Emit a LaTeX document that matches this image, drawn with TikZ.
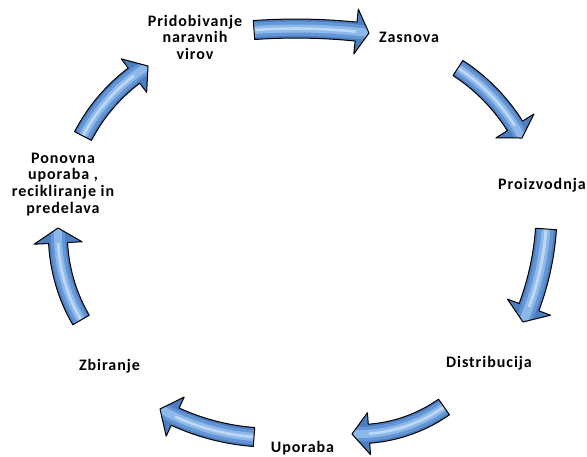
\documentclass[tikz,border=0pt]{standalone}
\usepackage{fontspec}
\newfontfamily\lblfont{Carlito}[LetterSpace=6]
\definecolor{arrbase}{RGB}{76,126,194}
\definecolor{arrmid}{RGB}{100,150,214}
\definecolor{arrlight}{RGB}{140,184,234}
\definecolor{arrwhite}{RGB}{222,236,252}
\tikzset{
  lbl/.style={font=\lblfont\bfseries\fontsize{16}{16.4}\selectfont, align=center, inner sep=0pt, text=black},
  arroutline/.style={draw=black, line width=1pt, line join=round}
}
% tail x, tail y, tip x, tip y, radius, shaft width, head width, head length
\newcommand\cycarrow[8]{%
  \pgfmathsetmacro\Adx{#3-#1}%
  \pgfmathsetmacro\Ady{#4-#2}%
  \pgfmathsetmacro\AL{veclen(\Adx,\Ady)}%
  \pgfmathsetmacro\Aq{\AL/(2*#5)}%
  \pgfmathsetmacro\Ah{#5*sqrt(1-\Aq*\Aq)}%
  \pgfmathsetmacro\Acx{(#1+#3)/2-\Ady/\AL*\Ah}%
  \pgfmathsetmacro\Acy{(#2+#4)/2+\Adx/\AL*\Ah}%
  \pgfmathsetmacro\Aa{atan2(#2-\Acy,#1-\Acx)}%
  \pgfmathsetmacro\Ab{atan2(#4-\Acy,#3-\Acx)}%
  \pgfmathsetmacro\Ab{\Ab<\Aa ? \Ab+360 : \Ab}%
  \pgfmathsetmacro\Ahd{\Ab-deg(#8/#5)}%
  \pgfmathsetmacro\Ro{#5+#6/2}%
  \pgfmathsetmacro\Ri{#5-#6/2}%
  \pgfmathsetmacro\Rho{#5+#7/2}%
  \pgfmathsetmacro\Rhi{#5-#7/2}%
  \pgfmathsetmacro\Aend{\Ab+2}%
  \pgfmathsetmacro\Ast{\Aa-2}%
  \pgfmathsetmacro\Lwa{0.75*#6}%
  \pgfmathsetmacro\Lwb{0.42*#6}%
  \pgfmathsetmacro\Lwc{0.14*#6}%
  \path[save path=\Apth]
    plot[domain=\Aa:\Ahd,samples=40,variable=\t] ({\Acx+\Ro*cos(\t)},{\Acy+\Ro*sin(\t)})
    -- ({\Acx+\Rho*cos(\Ahd)},{\Acy+\Rho*sin(\Ahd)})
    -- ({\Acx+#5*cos(\Ab)},{\Acy+#5*sin(\Ab)})
    -- ({\Acx+\Rhi*cos(\Ahd)},{\Acy+\Rhi*sin(\Ahd)})
    -- plot[domain=\Ahd:\Aa,samples=40,variable=\t] ({\Acx+\Ri*cos(\t)},{\Acy+\Ri*sin(\t)})
    -- cycle;
  \fill[arrbase, use path=\Apth];
  \begin{scope}
    \clip[use path=\Apth];
    \draw[arrmid, line width=\Lwa pt] plot[domain=\Ast:\Aend,samples=40,variable=\t] ({\Acx+#5*cos(\t)},{\Acy+#5*sin(\t)});
    \draw[arrlight, line width=\Lwb pt] plot[domain=\Ast:\Aend,samples=40,variable=\t] ({\Acx+#5*cos(\t)},{\Acy+#5*sin(\t)});
    \draw[arrwhite, line width=\Lwc pt, opacity=0.6] plot[domain=\Ast:\Ahd,samples=40,variable=\t] ({\Acx+#5*cos(\t)},{\Acy+#5*sin(\t)});
  \end{scope}
  \draw[arroutline, use path=\Apth];
}
\begin{document}
\begin{tikzpicture}[x=1pt,y=-1pt]
\useasboundingbox (0,0) rectangle (587,457);
\fill[white] (0,0) rectangle (587,457);

% arrows
\cycarrow{254}{30}{369}{33}{600}{19}{45}{13}
\cycarrow{458}{68}{522}{138}{190}{18}{45}{14}
\cycarrow{546}{229}{523}{322}{280}{21}{46}{16}
\cycarrow{444}{407}{352}{434}{150}{19}{42}{17}
\cycarrow{254}{437}{160}{409}{230}{19}{43}{17}
\cycarrow{81}{320}{58}{228}{170}{19}{48}{15}
\cycarrow{83}{136}{148}{66}{180}{19}{42}{17}

% labels (multi-line nodes: base = last line)
\node[lbl, anchor=base] (n1) at (195,59.3) {Pridobivanje\\naravnih\\virov};
\node[lbl, anchor=base] (n2) at (409,43) {Zasnova};
\node[lbl, anchor=base] (n3) at (542,190) {Proizvodnja};
\node[lbl, anchor=base] (n4) at (489,368) {Distribucija};
\node[lbl, anchor=base] (n5) at (302.5,452) {Uporaba};
\node[lbl, anchor=base] (n6) at (109.5,370.5) {Zbiranje};
\node[lbl, anchor=base, font=\lblfont\bfseries\fontsize{16}{16.7}\selectfont] (n7) at (63,213.3) {Ponovna\\uporaba ,\\recikliranje in\\predelava};
\end{tikzpicture}
\end{document}
